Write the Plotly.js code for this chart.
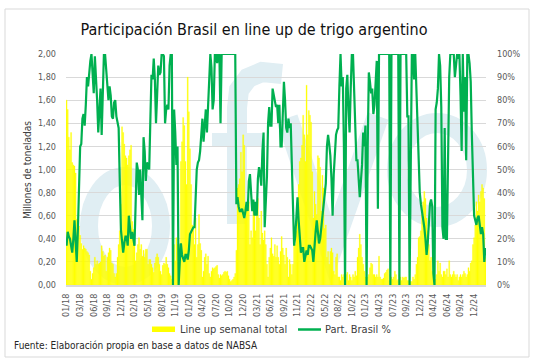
<!DOCTYPE html>
<html>
<head>
<meta charset="utf-8">
<script src="https://cdn.plot.ly/plotly-3.0.1.min.js"></script>
<style>
  html, body { margin: 0; padding: 0; background: #ffffff; }
  #chart { width: 535px; height: 363px; }
</style>
</head>
<body>
<div id="chart"></div>
<script>
// Tick labels of the weekly category axis (one every 12 weeks)
const weekLabels = ['01/18','03/18','06/18','09/18','12/18','02/19','05/19','08/19','11/19','01/20',
  '04/20','07/20','10/20','12/20','03/21','06/21','09/21','11/21','02/22','05/22',
  '08/22','10/22','01/23','04/23','07/23','09/23','12/23','04/24','06/24','09/24','12/24'];

// Line up semanal total (millones de toneladas)
const lineup = [
  1.60,1.52,1.28,1.17,1.32,1.06,1.04,1.03,0.97,0.57,0.54,0.51,
  0.43,0.36,0.31,0.34,0.32,0.31,0.29,0.28,0.26,0.12,0.05,0.10,
  0.15,0.24,0.18,0.21,0.18,0.19,0.20,0.34,0.29,0.25,0.26,0.12,
  0.24,0.28,0.32,0.30,0.19,0.18,0.10,0.07,0.10,0.24,0.35,0.47,
  0.70,1.37,1.32,1.22,1.12,1.10,1.04,1.12,1.17,1.21,0.55,0.48,
  0.38,0.21,0.28,0.35,0.41,0.31,0.35,0.25,0.30,0.24,0.31,0.31,
  0.18,0.22,0.22,0.18,0.15,0.11,0.19,0.24,0.27,0.24,0.18,0.12,
  0.09,0.17,0.19,0.18,0.24,0.18,0.15,0.10,0.08,0.05,0.15,0.35,
  0.21,0.41,0.35,0.18,0.35,1.07,1.24,1.45,1.38,1.07,0.87,1.80,
  1.50,1.18,0.87,0.52,0.49,0.35,0.58,0.24,0.35,0.61,0.36,0.30,
  0.07,0.12,0.24,0.27,0.18,0.25,0.10,0.07,0.12,0.15,0.14,0.15,
  0.16,0.17,0.09,0.06,0.09,0.08,0.09,0.11,0.12,0.11,0.12,0.08,
  0.05,0.03,0.04,0.05,0.07,0.10,0.30,0.84,0.87,0.92,1.15,0.98,
  1.30,1.21,0.58,0.64,0.70,0.72,0.35,0.47,0.41,0.72,0.67,0.47,
  0.64,0.75,0.58,0.35,0.64,0.45,0.39,0.47,0.35,0.18,0.07,0.24,
  0.32,0.41,0.27,0.25,0.35,0.24,0.34,0.24,0.18,0.29,0.42,0.32,
  0.26,0.18,0.32,0.24,0.07,0.22,0.18,0.09,0.18,0.42,0.35,0.47,
  0.64,0.87,1.07,1.10,1.21,1.47,1.30,1.07,1.73,1.30,1.51,1.47,
  1.41,0.98,0.58,0.81,0.70,0.61,1.12,1.10,1.02,0.64,0.95,0.84,
  0.49,0.52,0.24,0.29,0.18,0.29,0.32,0.28,0.12,0.09,0.24,0.27,
  0.07,0.07,0.04,0.09,0.07,0.09,0.05,0.09,0.11,0.04,0.09,0.07,
  0.04,0.09,0.07,0.12,0.08,0.24,0.32,0.44,0.35,0.24,0.18,0.12,
  0.07,0.04,0.07,0.09,0.15,0.19,0.18,0.09,0.09,0.07,0.09,0.07,
  0.25,0.07,0.05,0.05,0.06,0.10,0.11,0.13,0.14,0.04,0.09,0.07,
  0.05,0.07,0.12,0.09,0.04,0.05,0.09,0.07,0.04,0.07,0.06,0.07,
  0.07,0.04,0.04,0.02,0.03,0.03,0.07,0.05,0.09,0.18,0.24,0.41,
  0.42,0.47,0.61,0.72,0.81,0.75,0.58,0.47,0.35,0.21,0.24,0.12,
  0.18,0.09,0.05,0.09,0.21,0.12,0.19,0.09,0.07,0.12,0.12,0.09,
  0.14,0.07,0.21,0.09,0.07,0.09,0.12,0.09,0.07,0.09,0.04,0.07,
  0.09,0.07,0.09,0.12,0.10,0.07,0.09,0.15,0.12,0.19,0.21,0.35,
  0.41,0.52,0.72,0.64,0.78,0.72,0.81,0.87,0.84,0.75,0.24
];

// Part. Brasil % (participación semanal de Brasil, %)
const brasilPct = [
  17,23,21,20,17,14,20,28,19,10,24,46,
  60,61,72,74,69,78,90,86,93,97,100,90,
  83,99,90,80,66,80,85,65,90,100,100,94,
  87,80,86,82,73,72,79,80,73,71,68,45,
  24,19,14,18,21,21,17,30,26,20,23,20,
  17,35,53,50,39,50,39,28,64,58,45,53,
  52,50,71,91,89,98,89,70,82,95,91,92,
  100,100,99,70,76,78,76,95,100,100,0,76,
  66,52,60,0,10,18,13,11,10,13,13,11,
  15,22,23,24,25,25,38,50,53,54,58,64,
  72,62,71,76,66,78,95,100,94,76,80,100,
  100,96,100,100,70,100,100,100,100,100,100,100,
  100,100,100,100,100,100,35,38,34,32,32,33,
  31,29,32,36,32,45,48,37,32,37,30,36,
  30,46,51,48,43,58,66,25,35,47,70,77,
  69,69,85,82,78,77,78,70,78,60,60,75,
  88,80,68,66,72,68,70,52,30,17,21,29,
  38,28,18,14,16,16,10,13,15,13,17,17,
  16,15,10,19,23,28,22,18,20,25,29,33,
  37,44,60,65,61,56,46,30,48,60,65,67,
  68,86,100,86,90,60,0,85,91,76,66,85,
  100,100,85,65,54,54,45,38,45,52,66,60,
  69,0,60,92,88,83,85,74,78,87,97,33,
  100,100,100,100,100,100,100,100,100,100,0,100,
  100,100,100,100,100,100,0,100,100,100,100,100,
  100,73,73,0,68,100,100,89,100,85,68,53,
  40,35,32,30,25,20,13,18,25,35,37,34,
  5,0,76,79,85,100,95,77,25,20,68,20,
  20,72,90,100,100,100,100,90,95,100,98,100,
  82,58,100,75,90,54,100,100,96,88,65,45,
  30,28,26,29,30,26,22,25,22,10,16
];

const seriesNames = ['Line up semanal total', 'Part. Brasil %'];
const chartTitle = 'Participación Brasil en line up de trigo argentino';
const yTitle = 'Millones de toneladas';
const sourceText = 'Fuente: Elaboración propia en base a datos de NABSA';

const weekIdx = lineup.map((_, i) => i);
const tickStep = 12;
const tickIdx = weekLabels.map((_, k) => k * tickStep);

// page geometry (pixels)
const W = 535, H = 363, L = 66, R = 486, T = 54, B = 285;
const px = x => (x - L) / (R - L);
const py = y => (B - y) / (B - T);

const FONT = "'DejaVu Sans Condensed', 'Liberation Sans Narrow', 'Arial Narrow', sans-serif";
const YELLOW = '#ffff00';
const GREEN = '#00b050';
const WM = '#e0eef3';

function pathFrom(points) {
  return points.map((p, i) => (i ? 'L ' : 'M ') + px(p[0]).toFixed(4) + ',' + py(p[1]).toFixed(4)).join(' ');
}
function ellipse(cx, cy, rx, ry, w) {
  return {type: 'circle', xref: 'paper', yref: 'paper', layer: 'below',
    x0: px(cx - rx), x1: px(cx + rx), y0: py(cy + ry), y1: py(cy - ry),
    line: {color: WM, width: w}, fillcolor: 'rgba(0,0,0,0)'};
}
function stroke(points, w) {
  return {type: 'path', xref: 'paper', yref: 'paper', layer: 'below',
    path: pathFrom(points), line: {color: WM, width: w}};
}

const shapes = [
  // outer frame
  {type: 'rect', xref: 'paper', yref: 'paper', layer: 'below',
   x0: px(5), x1: px(529), y0: py(357), y1: py(9), line: {color: '#d9d9d9', width: 1}},
  // watermark logo (very light)
  ellipse(125, 226, 36, 50, 18),
  stroke([[237, 224], [237, 108], [239, 90], [248, 78], [262, 72], [282, 74]], 20),
  stroke([[212, 140], [262, 140]], 14),
  stroke([[287, 118], [331, 250], [378, 116]], 22),
  ellipse(437, 170, 40, 47, 20),
  // legend swatches
  {type: 'rect', xref: 'paper', yref: 'paper', x0: px(152), x1: px(175), y0: py(332), y1: py(326.5),
   fillcolor: YELLOW, line: {width: 0}},
  {type: 'line', xref: 'paper', yref: 'paper', x0: px(298), x1: px(321), y0: py(329.5), y1: py(329.5),
   line: {color: GREEN, width: 2.5}}
];

const annotations = [
  {text: yTitle, xref: 'paper', yref: 'paper', x: px(27), y: py(170), textangle: -90,
   showarrow: false, xanchor: 'center', yanchor: 'middle', font: {family: FONT, size: 10, color: '#404040'}},
  {text: seriesNames[0], xref: 'paper', yref: 'paper', x: px(178), y: py(329.5),
   showarrow: false, xanchor: 'left', yanchor: 'middle', font: {family: FONT, size: 11, color: '#404040'}},
  {text: seriesNames[1], xref: 'paper', yref: 'paper', x: px(323), y: py(329.5),
   showarrow: false, xanchor: 'left', yanchor: 'middle', font: {family: FONT, size: 11, color: '#404040'}},
  {text: sourceText, xref: 'paper', yref: 'paper', x: px(12), y: py(345),
   showarrow: false, xanchor: 'left', yanchor: 'middle', font: {family: FONT, size: 10, color: '#262626'}}
];

const data = [
  {type: 'bar', name: seriesNames[0], x: weekIdx, y: lineup, yaxis: 'y',
   marker: {color: YELLOW, line: {width: 0.3, color: YELLOW}}, hoverinfo: 'skip'},
  {type: 'scatter', mode: 'lines', name: seriesNames[1], x: weekIdx, y: brasilPct, yaxis: 'y2',
   line: {color: GREEN, width: 2.2}, hoverinfo: 'skip'}
];

const layout = {
  width: W, height: H,
  margin: {l: L, r: W - R, t: T, b: H - B, pad: 0},
  paper_bgcolor: '#ffffff', plot_bgcolor: 'rgba(0,0,0,0)',
  separators: ',.',
  showlegend: false,
  bargap: 0.1,
  font: {family: FONT, size: 9, color: '#595959'},
  title: {text: chartTitle, xref: 'container', yref: 'container', x: 254 / W, xanchor: 'center',
          y: 1 - 29 / H, yanchor: 'middle', font: {family: FONT, size: 16, color: '#111111'}},
  xaxis: {type: 'linear', range: [-0.5, lineup.length - 0.5], tickmode: 'array', tickvals: tickIdx,
          ticktext: weekLabels, tickangle: -90, tickfont: {family: FONT, size: 9, color: '#595959'},
          showgrid: false, zeroline: false, showline: true, linecolor: '#d9d9d9', linewidth: 2,
          ticks: '', ticklabelstandoff: 3, fixedrange: true},
  yaxis: {range: [0, 2], dtick: 0.2, tick0: 0, tickformat: '.2f', showgrid: true, gridcolor: '#d9d9d9',
          gridwidth: 1, zeroline: false, showline: false, ticks: '', ticklabelstandoff: 9,
          tickfont: {family: FONT, size: 9, color: '#595959'}, fixedrange: true},
  yaxis2: {range: [0, 100], dtick: 10, tick0: 0, ticksuffix: '%', overlaying: 'y', side: 'right',
           showgrid: false, zeroline: false, showline: false, ticks: '', ticklabelstandoff: 10,
           tickfont: {family: FONT, size: 9, color: '#595959'}, fixedrange: true},
  shapes: shapes,
  annotations: annotations
};

Plotly.newPlot('chart', data, layout, {staticPlot: true, displayModeBar: false});
</script>
</body>
</html>
